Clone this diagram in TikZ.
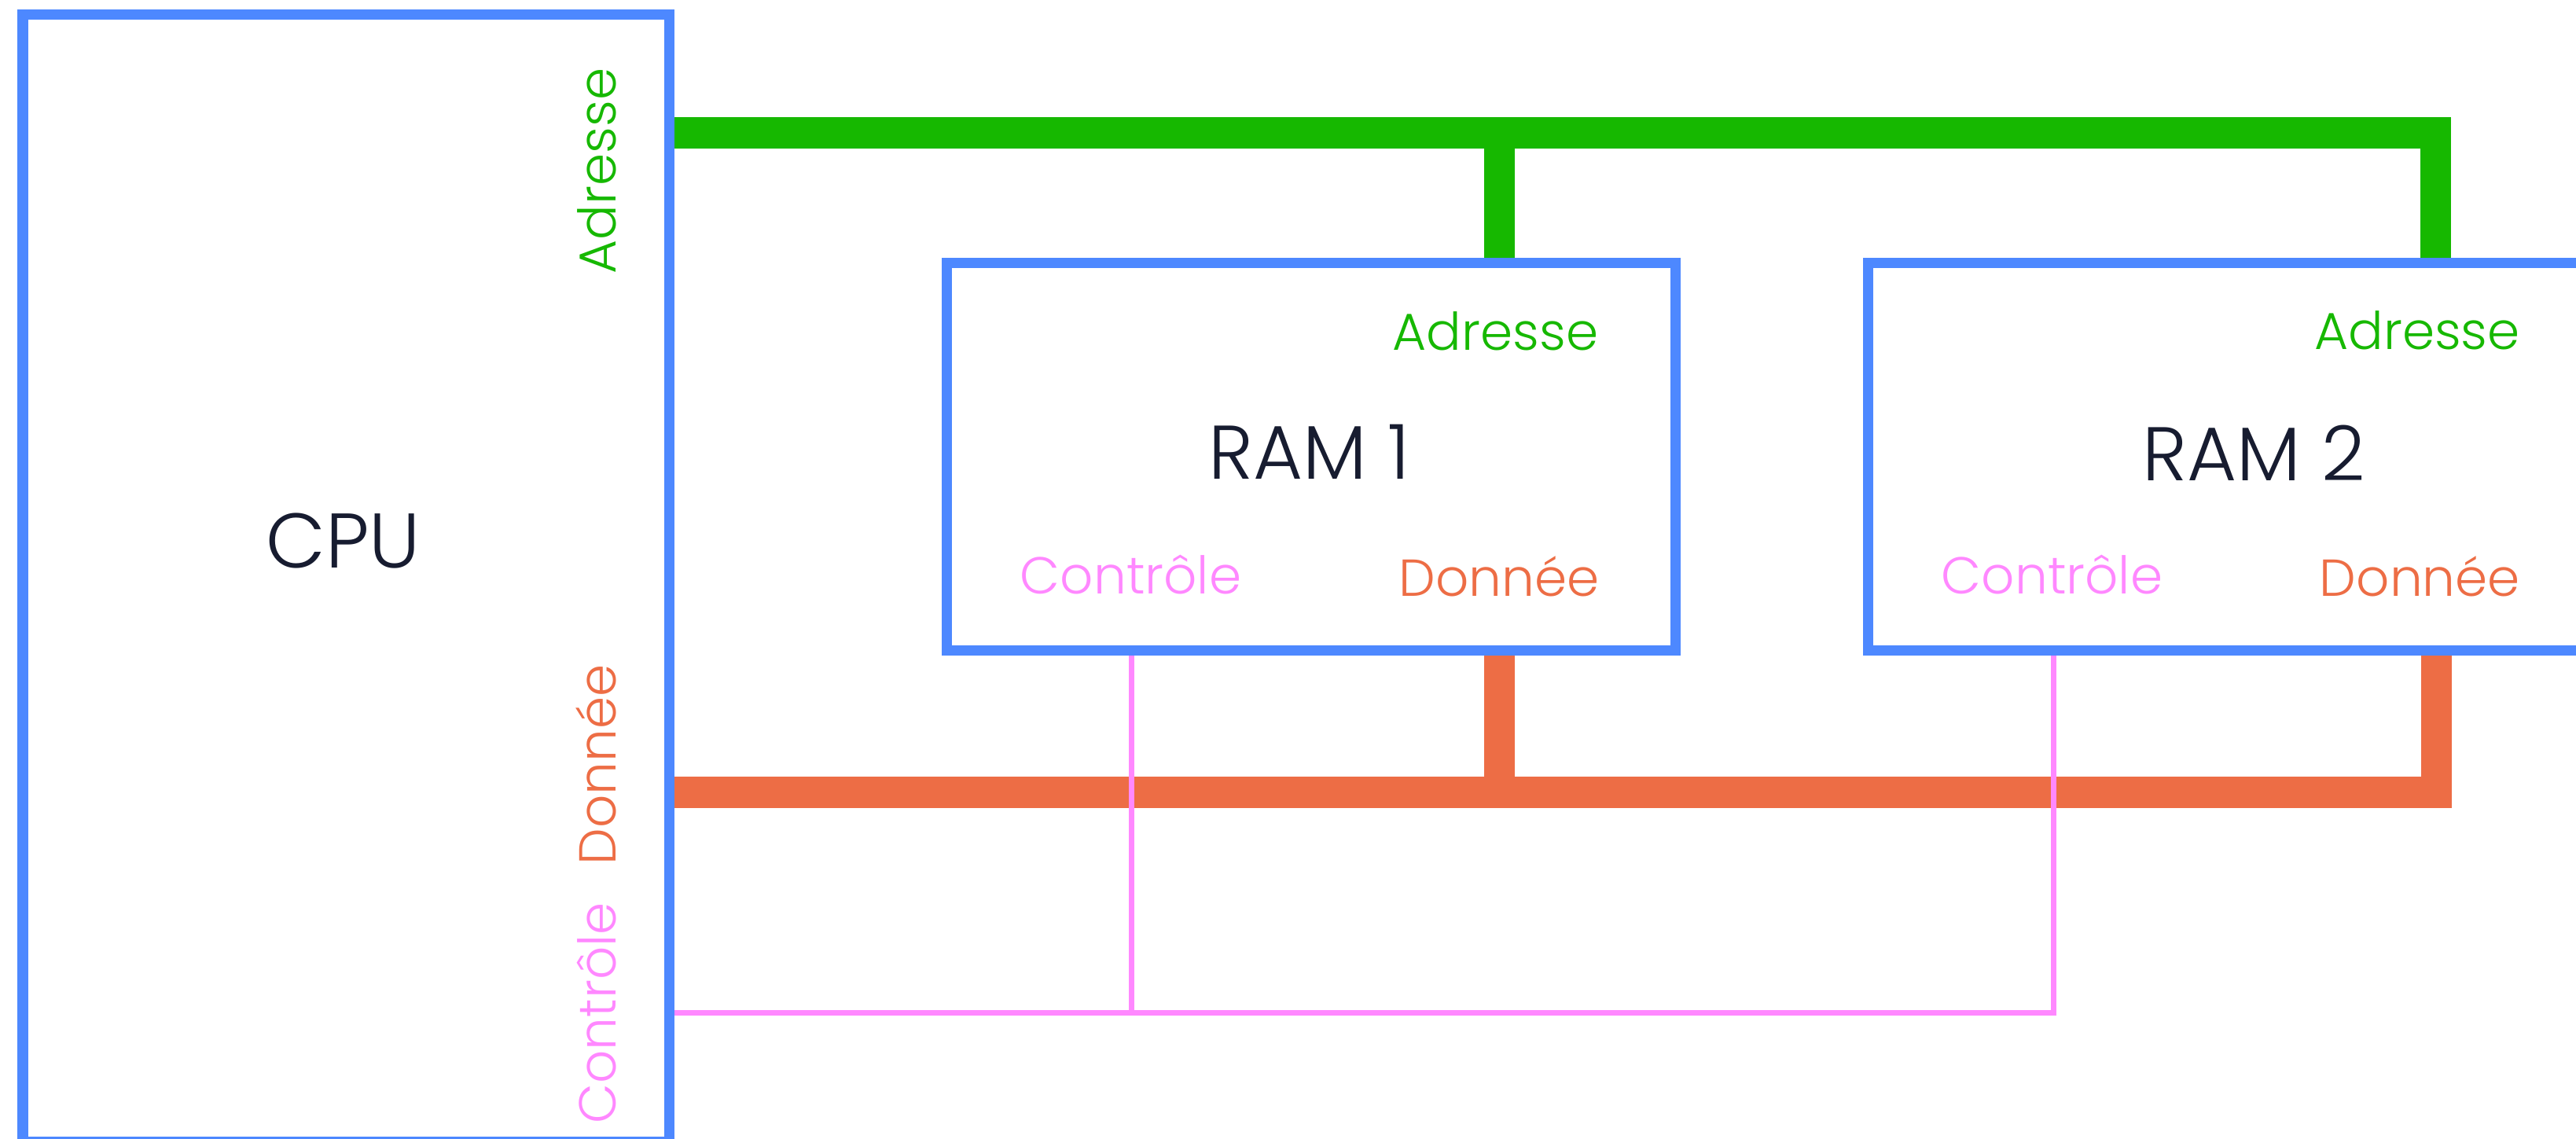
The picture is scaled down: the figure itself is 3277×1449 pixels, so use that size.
\documentclass[tikz,border=0pt]{standalone}
\usepackage{fontspec}
\setmainfont{Poppins}[UprightFont=* Light]
\definecolor{boxblue}{HTML}{4D88FF}
\definecolor{addrgreen}{HTML}{16B800}
\definecolor{dataorange}{HTML}{ED6D45}
\definecolor{ctrlpink}{HTML}{FF88FF}
\definecolor{inkdark}{HTML}{171C30}
\begin{document}
\begin{tikzpicture}[x=0.01cm, y=-0.01cm,
  unitbox/.style={draw=boxblue, line width=0.13cm, fill=white, inner sep=0pt,
    outer sep=0pt, anchor=north west, rectangle},
  bigname/.style={text=inkdark, inner sep=0pt, anchor=base,
    font=\fontsize{27.5}{32}\selectfont},
  portlbl/.style={inner sep=0pt, anchor=base, font=\fontsize{18.8}{22}\selectfont},
  addrbus/.style={draw=addrgreen, line width=0.39cm, line join=miter},
  databus/.style={draw=dataorange, line width=0.39cm, line join=miter},
  ctrlbus/.style={draw=ctrlpink, line width=0.07cm, line join=miter}]
\useasboundingbox (0,0) rectangle (3277,1449);
\clip (0,0) rectangle (3277,1449);

% bus junction points
\coordinate (acorner) at (3098.5,169);
\coordinate (atap) at (1907,169);
\coordinate (dcorner) at (3099,1008);
\coordinate (dtap) at (1907,1008);
\coordinate (ccorner) at (2612,1288);
\coordinate (ctap) at (1439,1288);

% units (border centre lines)
\path (29,19) node[unitbox, minimum width=8.225cm, minimum height=14.33cm] (cpu) {};
\path (1204.5,334.5) node[unitbox, minimum width=9.26cm, minimum height=4.93cm] (ram1) {};
\path (2376,334.5) node[unitbox, minimum width=9.26cm, minimum height=4.93cm] (ram2) {};

% address bus
\draw[addrbus] (cpu.east |- acorner) -- (acorner) -- (acorner |- ram2.north);
\draw[addrbus] (atap) -- (atap |- ram1.north);
% data bus
\draw[databus] (cpu.east |- dcorner) -- (dcorner) -- (dcorner |- ram2.south);
\draw[databus] (dtap) -- (dtap |- ram1.south);
% control bus
\draw[ctrlbus] (cpu.east |- ccorner) -- (ccorner) -- (ccorner |- ram2.south);
\draw[ctrlbus] (ctap) -- (ctap |- ram1.south);

% redraw the unit borders over the bus ends
\draw[draw=boxblue, line width=0.13cm] (cpu.north west) rectangle (cpu.south east);
\draw[draw=boxblue, line width=0.13cm] (ram1.north west) rectangle (ram1.south east);
\draw[draw=boxblue, line width=0.13cm] (ram2.north west) rectangle (ram2.south east);

% CPU
\node[bigname, font=\fontsize{28}{32}\selectfont] (cpuname) at (436.5,723) {CPU};
\node[portlbl, text=addrgreen, rotate=90] (cpuaddr) at (783,217.5) {Adresse};
\node[portlbl, text=dataorange, rotate=90] (cpudata) at (783,973) {Donnée};
\node[portlbl, text=ctrlpink, rotate=90] (cpuctrl) at (783,1289) {Contrôle};

% RAM 1
\node[bigname] (ram1name) at (1665.5,610) {RAM 1};
\node[portlbl, text=addrgreen] (ram1addr) at (1902.5,446) {Adresse};
\node[portlbl, text=ctrlpink] (ram1ctrl) at (1438.5,756) {Contrôle};
\node[portlbl, text=dataorange] (ram1data) at (1907,759) {Donnée};

% RAM 2
\node[bigname] (ram2name) at (2867.5,612) {RAM 2};
\node[portlbl, text=addrgreen] (ram2addr) at (3075,445) {Adresse};
\node[portlbl, text=ctrlpink] (ram2ctrl) at (2610.5,755) {Contrôle};
\node[portlbl, text=dataorange] (ram2data) at (3078.5,759) {Donnée};
\end{tikzpicture}
\end{document}
